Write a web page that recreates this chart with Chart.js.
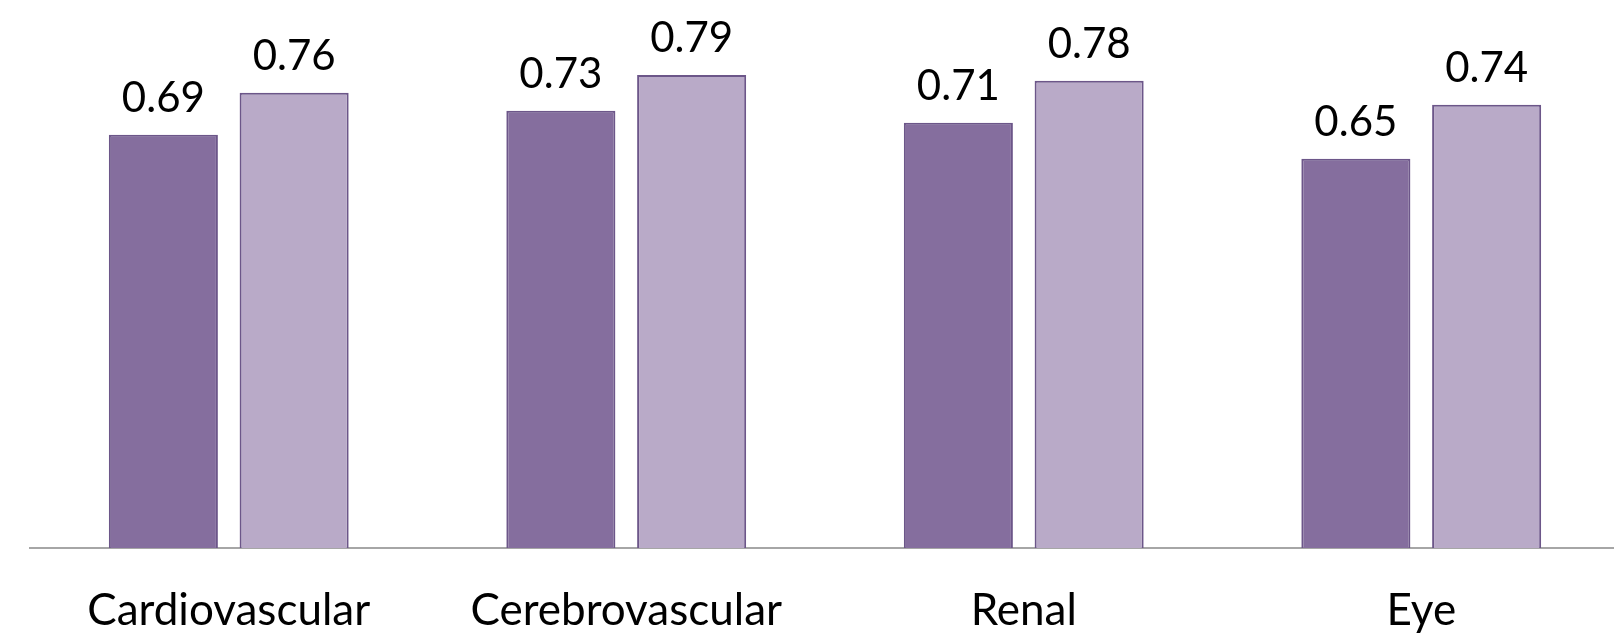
<!DOCTYPE html>
<html>
<head>
<meta charset="utf-8">
<script src="https://cdn.jsdelivr.net/npm/chart.js@4.4.0/dist/chart.umd.min.js"></script>
<style>
  html, body { margin: 0; padding: 0; background: #ffffff; overflow: hidden; }
  #wrap { width: 1614px; height: 636px; overflow: hidden; position: relative; }
  canvas { display: block; }
</style>
</head>
<body>
<div id="wrap"><canvas id="c" width="1620" height="636"></canvas></div>
<script>
const categories = ["Cardiovascular", "Cerebrovascular", "Renal", "Eye"];
const seriesA = [0.69, 0.73, 0.71, 0.65];
const seriesB = [0.76, 0.79, 0.78, 0.74];
const seriesNames = ["Series 1", "Series 2"];

const FONT = "Lato, 'Open Sans', sans-serif";

const valueLabels = {
  id: 'valueLabels',
  afterDatasetsDraw(chart) {
    const ctx = chart.ctx;
    ctx.save();
    ctx.fillStyle = '#000000';
    ctx.font = '42px ' + FONT;
    ctx.textAlign = 'center';
    ctx.textBaseline = 'alphabetic';
    chart.data.datasets.forEach((ds, di) => {
      const meta = chart.getDatasetMeta(di);
      meta.data.forEach((bar, i) => {
        ctx.fillText(ds.data[i].toFixed(2), bar.x, bar.y - 23);
      });
    });
    ctx.restore();
  }
};

new Chart(document.getElementById('c'), {
  type: 'bar',
  data: {
    labels: categories,
    datasets: [
      { label: seriesNames[0], data: seriesA, backgroundColor: '#856e9e', borderColor: '#6c5689', borderWidth: 2 },
      { label: seriesNames[1], data: seriesB, backgroundColor: '#b9aac8', borderColor: '#6c5689', borderWidth: 2 }
    ]
  },
  options: {
    responsive: false,
    animation: false,
    devicePixelRatio: 1,
    layout: { padding: { left: 30, right: 0, top: 9, bottom: 0 } },
    datasets: { bar: { categoryPercentage: 0.658, barPercentage: 0.834 } },
    plugins: { legend: { display: false }, tooltip: { enabled: false } },
    scales: {
      x: {
        grid: { display: false, drawTicks: false },
        border: { display: true, color: '#a6a6a6', width: 2 },
        ticks: { color: '#000000', font: { family: FONT, size: 44 }, padding: 36, maxRotation: 0, autoSkip: false },
        afterFit(scale) { scale.height = 88; }
      },
      y: {
        display: false,
        min: 0,
        max: 0.9
      }
    }
  },
  plugins: [valueLabels]
});
</script>
</body>
</html>
